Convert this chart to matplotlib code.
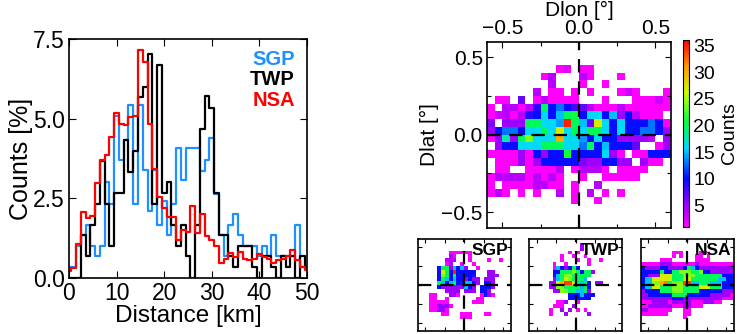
import numpy as np
import matplotlib.pyplot as plt
from matplotlib.colors import LinearSegmentedColormap
from matplotlib.ticker import MultipleLocator

plt.rcParams['font.family'] = ['Liberation Sans', 'DejaVu Sans']

# ---- distance histograms (percent), bins centred on 0..50 km
dist = np.arange(0, 51)
sgp = [0.33, 0.33, 1.0, 1.33, 1.67, 1.0, 0.67, 1.0, 3.0, 2.33,
       5.1, 3.7, 4.33, 5.43, 2.33, 5.43, 3.4, 2.1, 3.4, 1.67,
       2.4, 1.33, 2.33, 4.07, 3.07, 4.07, 4.07, 4.07, 3.36, 3.7,
       4.4, 2.62, 1.34, 0.67, 1.67, 2.0, 1.33, 1.0, 1.0, 1.0,
       0.67, 1.0, 0.67, 1.33, 0.67, 0.67, 0.67, 0.67, 1.67, 0.33, 0.33]
twp = [0.0, 0.0, 0.0, 1.33, 0.67, 1.67, 2.33, 3.67, 2.33, 1.0,
       2.67, 2.67, 4.33, 3.33, 4.0, 5.67, 6.0, 7.03, 2.33, 6.69,
       2.67, 3.0, 1.67, 1.0, 1.67, 0.67, 0.0, 1.67, 4.67, 5.7,
       5.33, 2.67, 1.33, 1.33, 0.67, 0.33, 1.0, 1.0, 1.0, 0.33,
       0.0, 0.67, 0.67, 0.33, 0.0, 0.67, 0.33, 0.67, 0.0, 0.67, 0.33]
nsa = [0.2, 0.31, 1.05, 2.08, 1.87, 1.94, 2.97, 3.7, 3.86, 4.43,
       5.17, 4.85, 4.8, 5.06, 5.1, 7.16, 6.8, 4.85, 3.41, 2.55,
       2.18, 1.92, 1.92, 1.2, 1.5, 1.45, 2.25, 1.4, 2.0, 1.3,
       1.2, 1.0, 0.45, 0.58, 0.77, 0.66, 0.82, 0.6, 0.55, 0.6,
       0.75, 0.65, 0.6, 0.45, 0.55, 0.6, 0.67, 0.87, 0.55, 0.35, 0.25]

# ---- 2-D offset histograms, 24x24 cells of 0.05 deg, rows from north to south
edges = np.linspace(-0.6, 0.6, 25)
Z = [0] * 24
all_sites = [
    Z, Z, Z,
    [0, 0, 0, 0, 0, 0, 0, 0, 0, 1, 2, 0, 1, 1, 0, 0, 0, 0, 0, 0, 0, 0, 0, 0],
    [0, 0, 0, 0, 0, 0, 0, 1, 4, 0, 0, 0, 4, 1, 0, 0, 0, 1, 0, 0, 0, 0, 0, 0],
    [0, 0, 0, 0, 0, 0, 0, 0, 4, 0, 0, 0, 1, 0, 0, 1, 0, 0, 0, 0, 0, 0, 0, 0],
    [0, 0, 0, 0, 0, 0, 4, 0, 1, 1, 0, 1, 0, 1, 0, 0, 0, 1, 3, 1, 0, 0, 0, 1],
    [0, 1, 1, 0, 7, 0, 1, 4, 1, 1, 1, 1, 0, 0, 0, 1, 0, 0, 0, 1, 1, 1, 3, 1],
    [1, 0, 4, 4, 1, 4, 9, 20, 10, 13, 10, 8, 7, 4, 1, 1, 1, 4, 1, 1, 1, 1, 1, 1],
    [1, 3, 4, 1, 4, 9, 10, 16, 10, 15, 20, 21, 10, 16, 16, 10, 15, 5, 10, 4, 1, 1, 1, 0],
    [6, 0, 5, 5, 5, 20, 20, 16, 16, 14, 35, 20, 15, 7, 27, 16, 10, 16, 10, 10, 10, 13, 10, 1],
    [5, 10, 13, 13, 10, 16, 16, 20, 16, 27, 16, 20, 16, 20, 20, 16, 10, 16, 10, 10, 13, 13, 10, 5],
    [1, 5, 18, 5, 20, 24, 16, 16, 16, 30, 16, 16, 14, 10, 16, 10, 10, 5, 5, 5, 5, 4, 0, 5],
    [0, 5, 10, 10, 16, 16, 16, 20, 20, 20, 16, 16, 13, 20, 10, 15, 10, 10, 10, 7, 0, 0, 1, 5],
    [1, 1, 1, 1, 5, 1, 10, 5, 10, 10, 21, 10, 10, 10, 10, 16, 5, 1, 0, 1, 1, 10, 10, 10],
    [0, 1, 1, 1, 5, 1, 5, 10, 10, 10, 10, 10, 6, 5, 5, 10, 10, 5, 5, 0, 5, 1, 1, 0],
    [0, 1, 1, 0, 0, 1, 1, 1, 1, 4, 0, 1, 4, 4, 4, 1, 0, 1, 1, 1, 1, 0, 0, 0],
    [1, 4, 4, 4, 4, 1, 4, 1, 4, 1, 0, 0, 1, 0, 0, 1, 1, 1, 1, 1, 0, 0, 0, 0],
    [1, 0, 1, 1, 1, 1, 4, 4, 1, 1, 0, 1, 0, 0, 4, 0, 0, 0, 0, 0, 0, 0, 0, 0],
    [1, 4, 1, 0, 1, 0, 1, 0, 0, 4, 0, 1, 0, 4, 0, 1, 0, 1, 0, 0, 0, 0, 0, 0],
    [0, 0, 0, 0, 0, 0, 0, 0, 0, 0, 0, 1, 0, 0, 1, 0, 0, 0, 0, 0, 0, 0, 0, 0],
    Z, Z, Z,
]
sgp2d = [
    Z, Z, Z,
    [0, 0, 0, 0, 0, 0, 0, 0, 1, 1, 1, 1, 1, 1, 0, 0, 0, 0, 0, 0, 0, 0, 0, 0],
    [0, 0, 0, 0, 0, 0, 0, 0, 4, 1, 0, 0, 0, 1, 0, 0, 0, 0, 0, 0, 0, 0, 0, 0],
    [0, 0, 0, 0, 0, 0, 0, 4, 4, 4, 0, 0, 0, 1, 0, 0, 0, 0, 1, 0, 0, 1, 0, 0],
    [0, 0, 0, 0, 0, 0, 0, 1, 4, 0, 0, 1, 0, 0, 1, 0, 0, 0, 0, 0, 0, 0, 0, 0],
    [0, 0, 0, 0, 0, 10, 20, 20, 5, 15, 10, 15, 5, 0, 0, 1, 0, 0, 0, 0, 0, 0, 0, 0],
    [0, 0, 0, 0, 0, 10, 27, 20, 10, 35, 10, 10, 10, 10, 10, 0, 0, 0, 5, 5, 0, 0, 0, 0],
    [0, 0, 0, 0, 0, 10, 24, 20, 10, 20, 10, 10, 10, 10, 9, 0, 0, 0, 5, 5, 5, 0, 0, 0],
    [0, 0, 0, 0, 0, 10, 20, 15, 10, 15, 10, 10, 5, 10, 5, 5, 0, 5, 5, 5, 0, 0, 0, 0],
    [0, 0, 0, 0, 0, 20, 15, 10, 15, 20, 10, 9, 15, 15, 10, 5, 0, 10, 10, 5, 0, 0, 0, 0],
    [0, 0, 0, 0, 0, 10, 5, 5, 5, 5, 5, 5, 15, 10, 5, 0, 10, 10, 10, 5, 0, 0, 0, 0],
    [0, 0, 0, 0, 0, 0, 0, 5, 5, 5, 5, 0, 5, 5, 5, 0, 10, 10, 5, 0, 0, 0, 0, 0],
    [0, 0, 0, 1, 1, 0, 0, 0, 5, 5, 1, 0, 0, 0, 0, 0, 1, 10, 5, 1, 0, 0, 0, 0],
    [0, 0, 0, 1, 1, 0, 0, 1, 0, 0, 0, 0, 0, 0, 0, 1, 1, 0, 0, 0, 0, 0, 0, 0],
    [0, 0, 0, 1, 1, 1, 1, 1, 0, 0, 0, 0, 0, 0, 1, 1, 1, 0, 0, 0, 0, 0, 0, 0],
    [0, 0, 0, 1, 1, 5, 5, 5, 1, 0, 0, 0, 0, 0, 0, 0, 0, 0, 0, 0, 0, 0, 0, 0],
    [0, 0, 0, 1, 1, 5, 5, 1, 0, 0, 0, 0, 0, 0, 0, 0, 0, 0, 0, 0, 0, 0, 0, 0],
    [0, 0, 0, 0, 0, 0, 1, 1, 0, 0, 0, 1, 1, 1, 0, 0, 0, 1, 1, 0, 0, 0, 0, 0],
    [0, 0, 0, 0, 0, 0, 0, 0, 0, 0, 0, 1, 1, 1, 0, 0, 0, 0, 0, 0, 0, 0, 0, 0],
    Z, Z, Z,
]
twp2d = [
    Z,
    [0, 0, 0, 0, 0, 0, 0, 0, 0, 0, 0, 0, 0, 5, 0, 0, 0, 0, 0, 0, 0, 0, 0, 0],
    [0, 0, 0, 0, 0, 0, 0, 0, 0, 0, 0, 0, 0, 5, 0, 0, 0, 0, 0, 0, 0, 0, 0, 0],
    [0, 0, 0, 0, 0, 0, 0, 0, 0, 0, 1, 0, 1, 0, 0, 0, 0, 0, 0, 0, 0, 0, 0, 0],
    [0, 0, 0, 0, 0, 0, 0, 0, 1, 0, 0, 1, 0, 0, 1, 0, 0, 0, 0, 0, 0, 0, 0, 0],
    [0, 0, 0, 0, 0, 0, 0, 0, 1, 0, 0, 0, 1, 0, 0, 1, 0, 0, 1, 0, 0, 0, 0, 0],
    [0, 0, 0, 0, 0, 0, 1, 0, 0, 1, 0, 0, 0, 0, 0, 1, 0, 0, 0, 0, 0, 0, 0, 0],
    [0, 0, 0, 0, 0, 0, 1, 15, 10, 5, 10, 20, 10, 0, 0, 0, 0, 0, 0, 0, 0, 0, 0, 0],
    [0, 0, 0, 0, 0, 0, 10, 10, 20, 20, 20, 24, 20, 10, 20, 20, 5, 0, 0, 0, 0, 0, 0, 0],
    [0, 0, 0, 0, 0, 0, 10, 15, 20, 24, 24, 20, 20, 20, 20, 20, 0, 0, 0, 0, 0, 0, 0, 0],
    [0, 0, 0, 0, 0, 0, 5, 15, 20, 27, 24, 20, 20, 20, 15, 0, 0, 0, 0, 0, 0, 0, 0, 0],
    [0, 0, 0, 0, 0, 5, 5, 27, 30, 34, 34, 27, 20, 15, 20, 10, 0, 5, 5, 0, 0, 0, 0, 0],
    [0, 0, 0, 0, 0, 5, 5, 24, 24, 20, 20, 20, 20, 15, 20, 10, 0, 0, 0, 0, 0, 0, 0, 0],
    [0, 0, 0, 0, 0, 0, 5, 5, 24, 24, 20, 20, 15, 15, 20, 5, 0, 0, 0, 0, 0, 0, 0, 0],
    [0, 0, 0, 0, 0, 0, 0, 0, 0, 0, 10, 10, 10, 15, 10, 10, 10, 0, 0, 0, 0, 0, 0, 0],
    [0, 0, 0, 0, 0, 0, 0, 0, 0, 0, 10, 10, 10, 10, 10, 10, 0, 0, 0, 0, 0, 0, 0, 0],
    [0, 0, 0, 0, 0, 0, 0, 1, 1, 5, 0, 0, 1, 0, 0, 0, 0, 0, 0, 0, 0, 0, 0, 0],
    [0, 0, 0, 0, 0, 0, 1, 1, 1, 0, 0, 5, 0, 0, 0, 0, 0, 0, 0, 0, 0, 0, 0, 0],
    [0, 0, 0, 0, 0, 1, 0, 0, 5, 0, 5, 0, 1, 0, 1, 0, 0, 0, 0, 0, 0, 0, 0, 0],
    [0, 0, 0, 0, 0, 1, 0, 0, 0, 5, 0, 0, 0, 0, 0, 5, 0, 0, 0, 0, 0, 0, 0, 0],
    Z, Z, Z, Z,
]
nsa2d = [
    Z, Z, Z,
    [0, 0, 0, 0, 0, 0, 0, 0, 1, 1, 1, 0, 0, 0, 0, 1, 1, 0, 0, 0, 0, 0, 0, 0],
    [0, 0, 0, 0, 0, 0, 0, 0, 1, 0, 1, 0, 0, 0, 1, 1, 0, 1, 0, 0, 0, 0, 0, 0],
    [0, 0, 0, 0, 0, 1, 1, 1, 0, 0, 0, 0, 0, 0, 1, 1, 1, 1, 0, 0, 0, 0, 0, 0],
    [1, 1, 1, 1, 1, 5, 5, 5, 1, 1, 1, 1, 1, 1, 5, 1, 1, 1, 1, 1, 1, 1, 1, 1],
    [10, 5, 5, 5, 5, 10, 10, 5, 5, 5, 5, 10, 20, 15, 10, 5, 5, 5, 5, 5, 5, 5, 5, 5],
    [10, 10, 10, 10, 10, 20, 10, 10, 20, 20, 24, 24, 24, 20, 20, 24, 10, 10, 5, 5, 5, 5, 5, 5],
    [10, 10, 5, 5, 5, 27, 27, 27, 20, 20, 20, 24, 24, 24, 20, 20, 20, 20, 20, 20, 20, 10, 10, 10],
    [10, 15, 15, 27, 27, 27, 27, 27, 20, 20, 20, 27, 27, 20, 20, 20, 20, 20, 20, 20, 15, 15, 10, 10],
    [10, 15, 15, 24, 24, 30, 32, 20, 24, 24, 24, 34, 34, 15, 15, 20, 20, 20, 15, 15, 15, 10, 10, 10],
    [10, 15, 15, 27, 27, 20, 20, 20, 24, 24, 24, 20, 20, 20, 20, 27, 27, 27, 20, 20, 20, 10, 10, 10],
    [5, 10, 10, 10, 10, 20, 20, 20, 24, 24, 24, 20, 20, 20, 20, 10, 10, 10, 10, 10, 10, 5, 5, 5],
    [5, 5, 10, 10, 10, 10, 10, 10, 20, 20, 20, 20, 10, 10, 10, 10, 10, 10, 5, 5, 5, 5, 5, 1],
    [5, 5, 5, 5, 5, 5, 5, 5, 10, 10, 10, 5, 5, 5, 5, 5, 5, 5, 5, 5, 5, 1, 1, 1],
    [1, 1, 1, 5, 5, 5, 5, 1, 5, 5, 5, 5, 5, 1, 1, 1, 5, 5, 5, 1, 1, 0, 0, 0],
    [1, 1, 5, 5, 5, 5, 5, 5, 1, 1, 1, 5, 5, 1, 1, 1, 0, 0, 0, 0, 0, 0, 0, 0],
    [5, 5, 1, 1, 1, 1, 1, 1, 0, 0, 0, 1, 1, 0, 0, 0, 0, 0, 0, 0, 0, 0, 0, 0],
    [1, 1, 1, 1, 1, 1, 1, 0, 0, 0, 0, 1, 1, 0, 0, 0, 0, 0, 0, 0, 0, 0, 0, 0],
    [0, 0, 0, 0, 0, 0, 0, 0, 0, 0, 0, 1, 0, 0, 0, 0, 0, 0, 0, 0, 0, 0, 0, 0],
    Z, Z, Z,
]

cbar_ticks = [5, 10, 15, 20, 25, 30, 35]

cmap = LinearSegmentedColormap.from_list('idl', [
    (0.0, (1.0, 0.0, 1.0)),
    (0.12, (0.6, 0.0, 1.0)),
    (0.26, (0.0, 0.05, 1.0)),
    (0.42, (0.0, 0.85, 1.0)),
    (0.56, (0.0, 1.0, 0.25)),
    (0.72, (0.8, 1.0, 0.0)),
    (0.86, (1.0, 0.6, 0.0)),
    (1.0, (1.0, 0.0, 0.0)),
])
vmin, vmax = 1, 36


def hist2d(ax, rows):
    z = np.ma.masked_equal(np.array(rows, dtype=float), 0)
    return ax.pcolormesh(edges, edges[::-1], z, cmap=cmap, vmin=vmin, vmax=vmax)


def cross(ax):
    ax.axhline(0, color='black', lw=1.6, ls=(0, (6, 4)))
    ax.axvline(0, color='black', lw=1.6, ls=(0, (6, 4)))


fig = plt.figure(figsize=(7.37, 3.34), dpi=100)

# left: histogram of distances
ax = fig.add_axes([0.0936, 0.1686, 0.3229, 0.7138])
ax.step(dist, sgp, where='mid', color='#1e90ff', lw=1.6)
ax.step(dist, twp, where='mid', color='black', lw=1.6)
ax.step(dist, nsa, where='mid', color='red', lw=1.6)
ax.set_xlim(0, 50)
ax.set_ylim(0, 7.5)
ax.set_xticks([0, 10, 20, 30, 40, 50])
ax.set_yticks([0, 2.5, 5.0, 7.5])
ax.set_yticklabels(['0.0', '2.5', '5.0', '7.5'])
ax.tick_params(direction='in', top=True, right=True, labelsize=16.5, length=5, width=0.8, pad=3)
ax.set_xlabel('Distance [km]', fontsize=17.5, labelpad=0)
ax.set_ylabel('Counts [%]', fontsize=18, labelpad=0)
for s in ax.spines.values():
    s.set_linewidth(1.2)
for txt, col, yy in [('SGP', '#1e90ff', 0.915), ('TWP', 'black', 0.83), ('NSA', 'red', 0.745)]:
    ax.text(0.95, yy, txt, color=col, fontsize=14.5, fontweight='bold',
            ha='right', va='center', transform=ax.transAxes)

# right: all sites 2-D histogram
ax2 = fig.add_axes([0.6608, 0.3183, 0.2493, 0.5569])
mesh = hist2d(ax2, all_sites)
cross(ax2)
ax2.set_xlim(-0.6, 0.6)
ax2.set_ylim(-0.6, 0.6)
ax2.set_xticks([-0.5, 0.0, 0.5])
ax2.set_yticks([-0.5, 0.0, 0.5])
ax2.set_xticklabels(['\u22120.5', '0.0', '0.5'])
ax2.set_yticklabels(['\u22120.5', '0.0', '0.5'])
ax2.xaxis.set_minor_locator(MultipleLocator(0.25))
ax2.yaxis.set_minor_locator(MultipleLocator(0.25))
ax2.xaxis.tick_top()
ax2.xaxis.set_label_position('top')
ax2.tick_params(which='both', direction='in', top=True, bottom=True, left=True, right=True,
                labelsize=15, length=4, width=0.8, pad=3)
ax2.tick_params(which='minor', length=3)
ax2.set_xlabel('Dlon [\u00b0]', fontsize=15, labelpad=2)
ax2.set_ylabel('Dlat [\u00b0]', fontsize=15, labelpad=2)
for s in ax2.spines.values():
    s.set_linewidth(1.2)

cax = fig.add_axes([0.9267, 0.3204, 0.0085, 0.5596])
cb = fig.colorbar(mesh, cax=cax, ticks=cbar_ticks)
cb.outline.set_linewidth(0.8)
cax.tick_params(length=0, labelsize=14, pad=3)
cax.text(7.4, 0.5, 'Counts', rotation=90, fontsize=14, ha='center', va='center',
         transform=cax.transAxes)

# bottom: per-site panels
for x0, rows, name in [(0.5668, sgp2d, 'SGP'), (0.7182, twp2d, 'TWP'), (0.8693, nsa2d, 'NSA')]:
    a = fig.add_axes([x0, 0.009, 0.1262, 0.2754])
    hist2d(a, rows)
    cross(a)
    a.set_xlim(-0.6, 0.6)
    a.set_ylim(-0.6, 0.6)
    a.set_xticks([-0.5, -0.25, 0, 0.25, 0.5])
    a.set_yticks([-0.5, -0.25, 0, 0.25, 0.5])
    a.set_xticklabels([])
    a.set_yticklabels([])
    a.tick_params(direction='in', top=True, right=True, length=3, width=0.8)
    for s in a.spines.values():
        s.set_linewidth(1.2)
    a.text(0.97, 0.96, name, fontsize=12.5, fontweight='bold', ha='right', va='top',
           transform=a.transAxes)

fig.savefig('out.png', dpi=100)
